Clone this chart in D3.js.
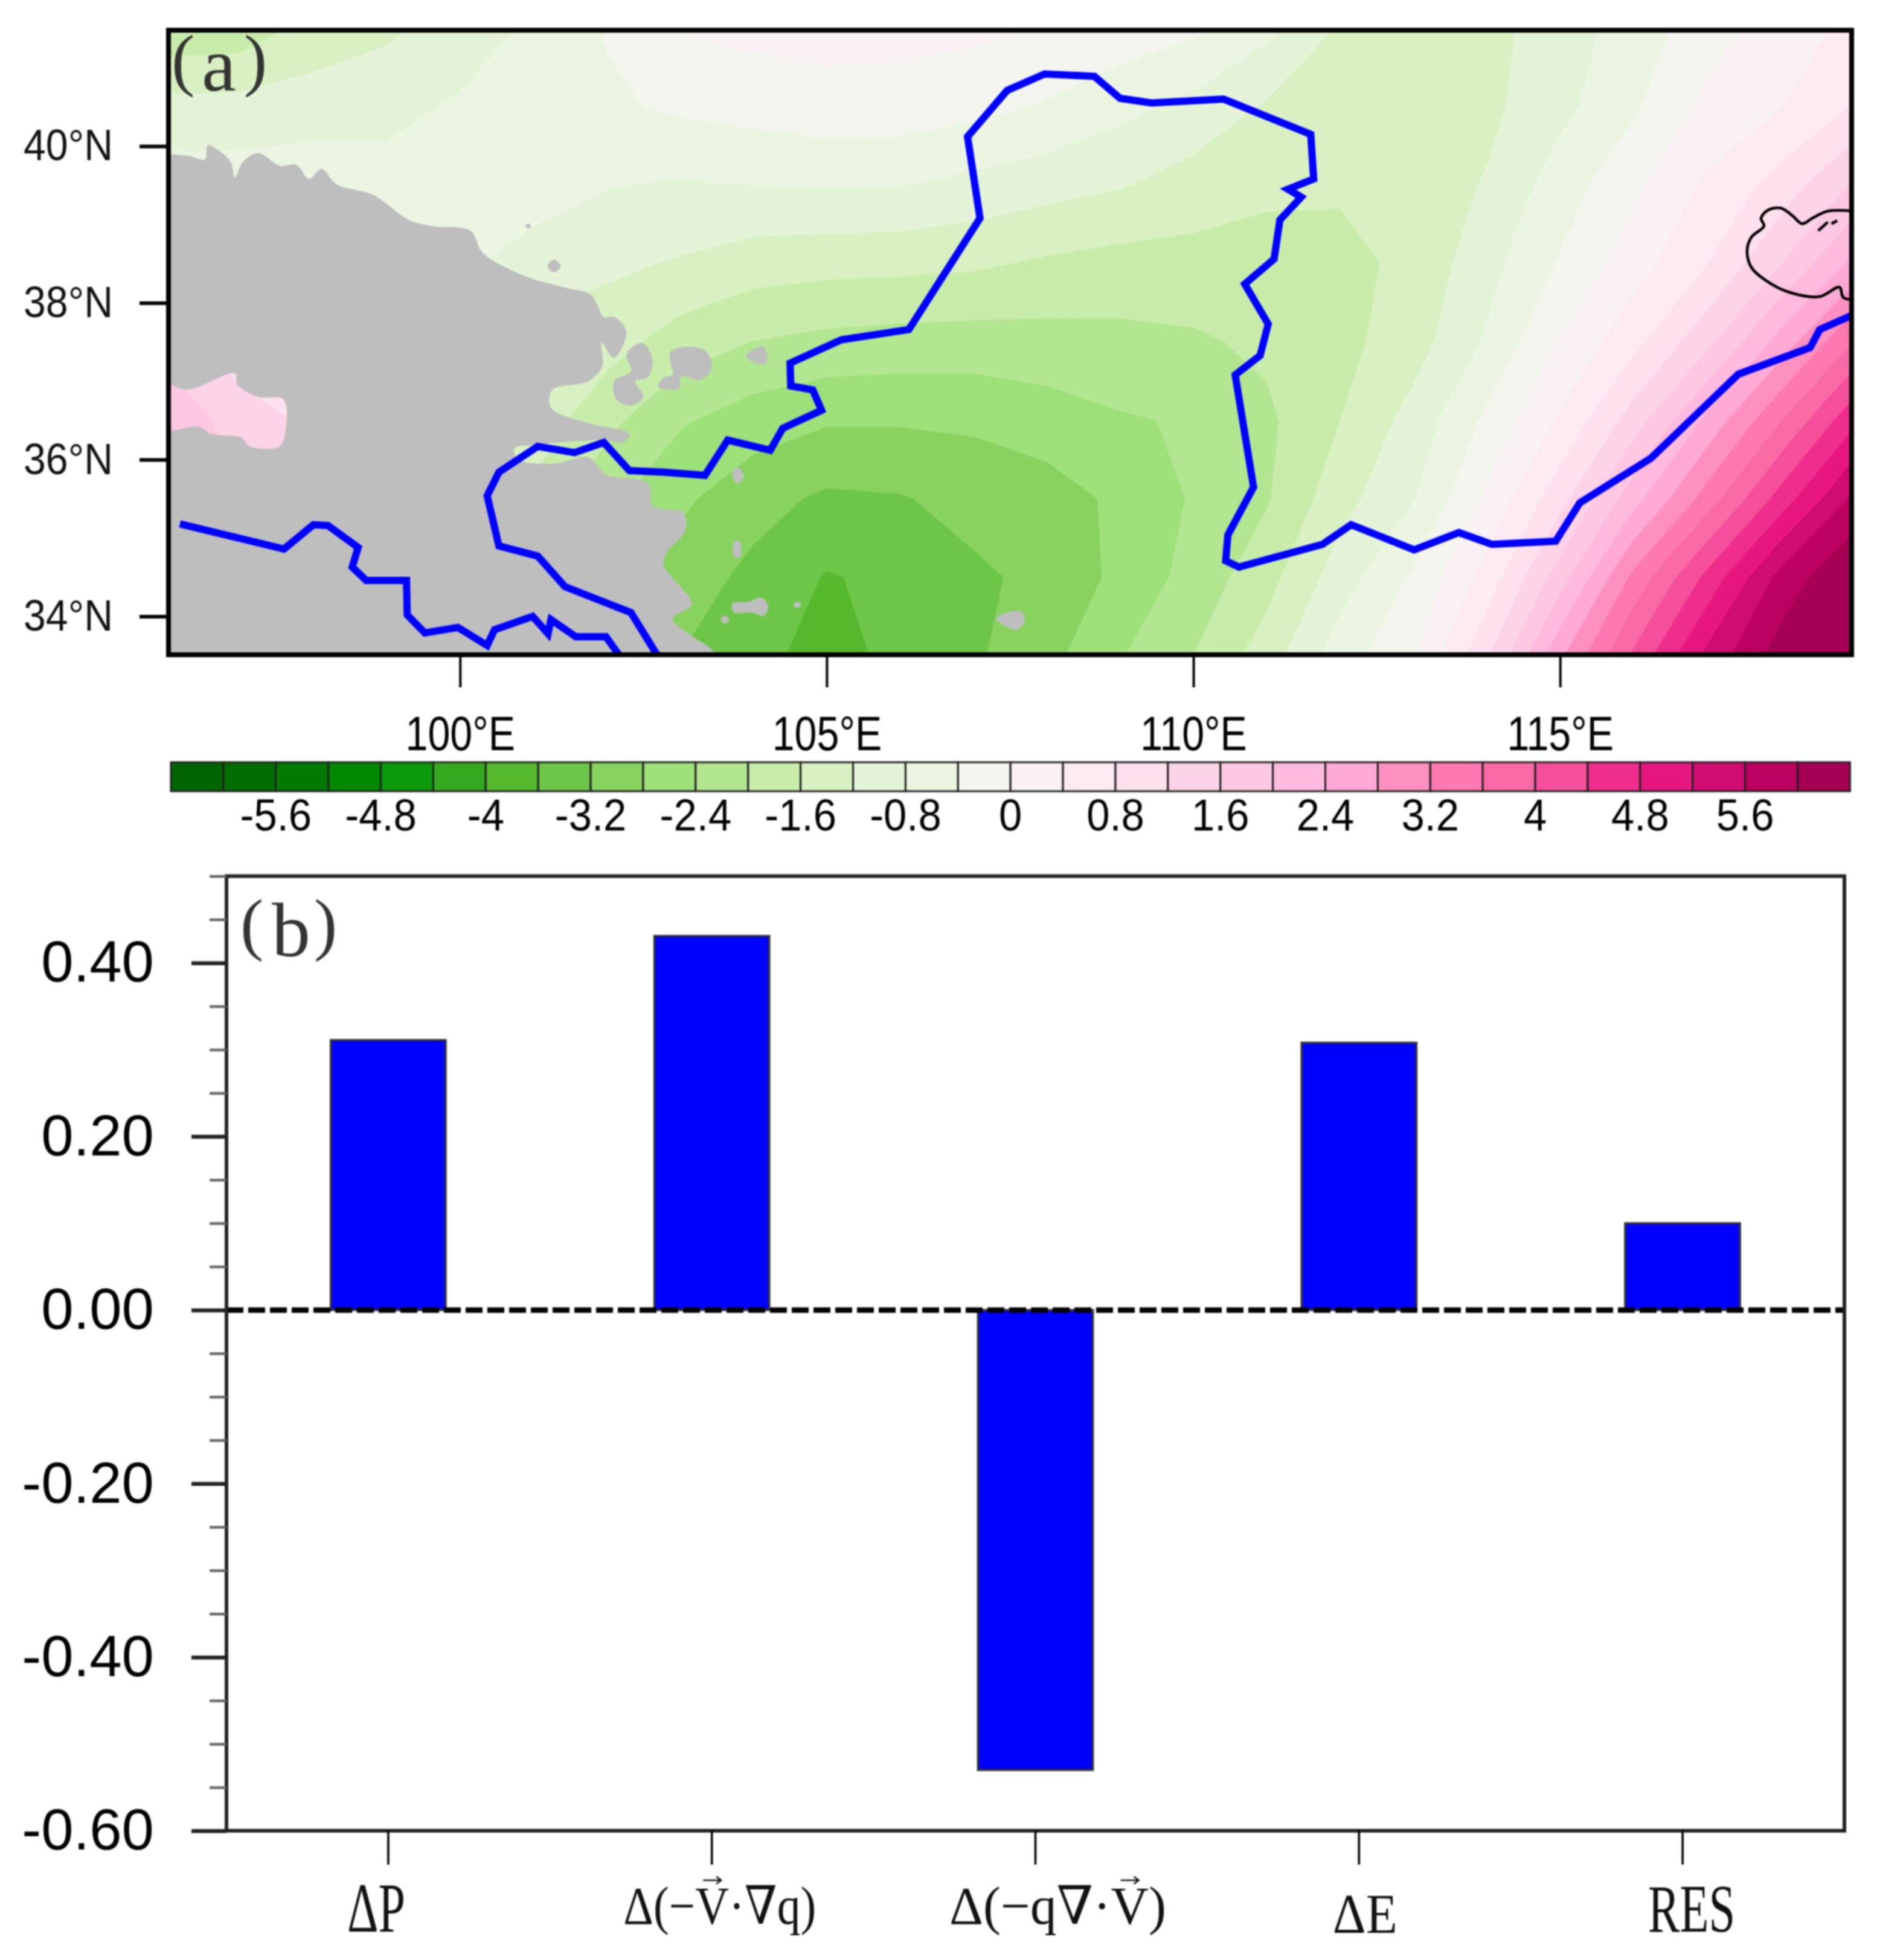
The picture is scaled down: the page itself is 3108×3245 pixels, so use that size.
<!DOCTYPE html>
<html>
<head>
<meta charset="utf-8">
<title>moisture budget</title>
<script src="https://cdn.jsdelivr.net/npm/d3@7"></script>
<style>
html, body { margin: 0; padding: 0; background: #fff; }
svg { display: block; filter: blur(0.9px); }
</style>
</head>
<body>
<div id="chart"></div>
<script>
// panel (a) - field, one row per latitude
var lons = d3.range(96, 120);
var lats = [41.5, 40.5, 39.5, 38.5, 37.5, 36.5, 35.5, 34.5, 33.5];
var row415 = [-1.9,-1.85,-1.45,-1.28,-1.0,-.74,-.37,.02,.12,.15,.14,.1,-.02,-.16,-.32,-.7,-1.25,-1.4,-1.33,-1.0,-.63,-.17,.18,.5];
var row405 = [-1.07,-1.05,-1.0,-.92,-.75,-.6,-.47,-.33,-.25,-.16,-.18,-.28,-.44,-.69,-.92,-1.25,-1.4,-1.45,-1.3,-.92,-.46,.1,.38,.83];
var row395 = [-.6,-.6,-.55,-.65,-.55,-.55,-.78,-.85,-.8,-.77,-.79,-.92,-1.05,-1.17,-1.38,-1.54,-1.55,-1.42,-1.17,-.6,-.08,.47,.96,1.65];
var row385 = [0,0,-.2,-.7,-.7,-1.03,-1.12,-1.24,-1.41,-1.47,-1.49,-1.54,-1.66,-1.75,-1.74,-1.72,-1.72,-1.5,-.94,-.36,.22,.78,1.58,2.5];
var row375 = [1.47,.87,.5,-.2,-.9,-1.3,-1.43,-1.79,-2.01,-2.11,-2.16,-2.18,-2.15,-2.11,-2.06,-1.92,-1.72,-1.38,-.75,.03,.67,1.48,2.55,3.6];
var row365 = [1.85,1.45,1.1,.2,-.5,-1.35,-1.89,-2.35,-2.6,-2.76,-2.76,-2.73,-2.6,-2.44,-2.36,-2.08,-1.6,-1.05,-.32,.45,1.39,2.5,3.57,4.7];
var row355 = [2.0,1.6,1.0,0,-.8,-1.7,-2.3,-2.72,-3.06,-3.27,-3.23,-3.07,-2.98,-2.72,-2.36,-2.04,-1.35,-.83,.07,1.05,2.24,3.37,4.56,5.68];
var row345 = [1.5,1,.4,-.4,-1.2,-2.0,-2.6,-3.0,-3.3,-3.63,-3.5,-3.27,-3.1,-2.7,-2.25,-1.75,-1.0,-.33,.55,1.8,3.3,4.5,5.72,6.42];
var row335 = [1,.6,.1,-.6,-1.4,-2.2,-2.8,-3.2,-3.4,-3.85,-3.42,-3.26,-2.93,-2.43,-2.0,-1.4,-.6,-.05,1.12,2.72,4.07,5.3,6.2,7.0];

// contour levels and box colours of the label bar
var levels = d3.range(-6, 6.01, 0.4).map(function(d) { return +d.toFixed(1); });
var levelColors = ["#006400","#006e00","#007a00","#008800","#0a9a0a","#35a91e","#55b92d","#6ec648",
                   "#88d260","#9ee07a","#b3e690","#c8edaa","#d9f1c2","#e5f4d8","#ebf5e2","#f3f5ee",
                   "#f9f1f4","#fdeaf2","#fee0ee","#fdd3e7","#fec8e3","#ffbade","#feaad4","#fe90c0",
                   "#fc78ae","#f96aa5","#f54e9a","#ef2d8c","#e8177f","#d10c70","#bb0060","#a60055"];
var barLabels = [-5.6,-4.8,-4,-3.2,-2.4,-1.6,-0.8,0,0.8,1.6,2.4,3.2,4,4.8,5.6];
var lonTicks = [100, 105, 110, 115];
var latTicks = [34, 36, 38, 40];

// missing-data mask, [lon, lat]
var maskMain = [[95.9,39.82],[96.27,39.88],[96.52,39.83],[96.56,40.01],[96.67,39.97],[96.87,39.80],[96.93,39.60],[97.04,39.80],
  [97.25,39.91],[97.54,39.75],[97.77,39.76],[97.94,39.58],[98.11,39.71],[98.32,39.51],[98.81,39.38],[99.30,39.06],[99.62,38.98],
  [100.14,38.92],[100.31,38.64],[100.89,38.34],[101.41,38.20],[101.79,38.10],[101.96,37.82],[102.10,37.82],[102.27,37.63],
  [102.10,37.30],[101.93,37.49],[101.94,37.19],[101.75,37.00],[101.26,36.89],[101.24,36.66],[101.73,36.47],[102.31,36.33],
  [102.22,36.22],[101.96,36.25],[101.06,36.19],[100.74,36.14],[100.80,36.00],[101.29,35.95],[101.75,36.03],[101.99,35.81],
  [102.56,35.70],[102.62,35.42],[102.78,35.37],[103.05,35.32],[103.07,35.09],[102.82,34.82],[102.78,34.65],[103.16,34.16],
  [102.90,33.97],[103.13,33.77],[103.48,33.52],[103.48,33.0],[95.5,33.0]];
var maskHole = [[95.9,36.995],[96.27,36.89],[96.93,37.10],[96.96,36.96],[97.25,36.80],[97.59,36.77],[97.62,36.36],[97.54,36.17],
  [97.13,36.17],[97.02,36.28],[96.61,36.33],[96.44,36.42],[95.9,36.39]];
var maskSpots = [
  [[102.48,37.49],[102.62,37.30],[102.56,37.05],[102.39,37.00],[102.50,36.80],[102.33,36.69],[102.13,36.77],[102.10,37.00],[102.33,37.13],[102.27,37.35]],
  [[102.87,37.38],[103.13,37.44],[103.36,37.38],[103.43,37.16],[103.28,37.02],[103.01,37.06],[102.99,36.91],[102.70,36.93],[102.78,37.05],[102.90,37.08],[102.87,37.24]],
  [[103.90,37.33],[104.14,37.44],[104.18,37.24],[104.03,37.23]],
  [[103.71,35.84],[103.80,35.90],[103.87,35.79],[103.78,35.69]],
  [[103.74,34.96],[103.81,34.96],[103.82,34.77],[103.74,34.75]],
  [[103.71,34.16],[103.94,34.19],[104.11,34.24],[104.20,34.13],[104.14,34.01],[103.97,34.05],[103.74,34.05]],
  [[104.55,34.15],[104.60,34.19],[104.65,34.15],[104.60,34.11]],
  [[103.55,33.96],[103.61,34.01],[103.67,33.96],[103.61,33.91]],
  [[107.31,33.97],[107.50,34.06],[107.67,34.05],[107.69,33.91],[107.58,33.83]],
  [[100.89,38.98],[100.93,39.01],[100.97,38.98],[100.93,38.95]],
  [[101.19,38.47],[101.28,38.55],[101.37,38.47],[101.28,38.39]]
];

// blue basin outline
var basinSouth = [[96.18,35.18],[97.60,34.86],[98.00,35.17],[98.20,35.16],[98.61,34.88],[98.53,34.63],[98.72,34.46],[99.27,34.46],
  [99.28,34.02],[99.52,33.79],[99.97,33.86],[100.37,33.63],[100.47,33.83],[100.99,34.00],[101.20,33.78],[101.24,33.96],[101.58,33.74],
  [101.99,33.74],[102.16,33.52]];
var basinNorth = [[102.68,33.52],[102.33,34.05],[101.43,34.38],[101.06,34.77],[100.53,34.90],[100.37,35.54],[100.53,35.84],[101.06,36.17],
  [101.56,36.09],[101.96,36.22],[102.31,35.86],[102.78,35.84],[103.34,35.80],[103.65,36.25],[104.23,36.12],[104.40,36.40],[104.93,36.63],
  [104.81,36.89],[104.51,36.94],[104.50,37.23],[105.20,37.53],[106.12,37.66],[107.09,39.08],[106.92,40.12],[107.46,40.71],[107.97,40.92],
  [108.65,40.89],[109.00,40.61],[109.43,40.55],[110.41,40.60],[111.60,40.15],[111.64,39.58],[111.29,39.45],[111.47,39.35],[111.18,39.06],
  [111.10,38.56],[110.70,38.24],[111.02,37.73],[110.91,37.33],[110.57,37.08],[110.82,35.65],[110.47,35.04],[110.44,34.71],[110.62,34.63],
  [111.76,34.92],[112.15,35.17],[113.01,34.85],[113.62,35.07],[114.07,34.92],[114.94,34.96],[115.27,35.45],[116.24,36.02],[117.43,37.09],
  [118.41,37.43],[118.54,37.66],[119.0,37.85]];

// black coast
var coastBay = [[119.0,39.17],[118.65,39.17],[118.44,39.08],[118.30,39.01],[118.17,39.11],[118.01,39.21],[117.83,39.18],[117.74,39.08],
  [117.78,38.98],[117.61,38.84],[117.55,38.67],[117.61,38.45],[117.80,38.29],[118.11,38.14],[118.54,38.08],[118.81,38.20],[118.86,38.07],[119.0,38.04]];
var coastBits = [[[118.52,38.92],[118.65,39.03]], [[118.70,39.01],[118.78,39.05]], [[118.97,37.52],[118.97,37.33]]];

// panel (b)
var budgetNames = ["ΔP", "Δ(−V·∇q)", "Δ(−q∇·V)", "ΔE", "RES"];
var budgetValues = [0.311, 0.431, -0.53, 0.308, 0.1];
var yMajor = [-0.6, -0.4, -0.2, 0, 0.2, 0.4];
var yMinor = d3.range(-0.55, 0.51, 0.05).map(function(d) { return +d.toFixed(2); })
  .filter(function(d) { return yMajor.indexOf(d) < 0; });

var sans = "'Liberation Sans', Arial, sans-serif";
var serif = "'Liberation Serif', 'DejaVu Serif', serif";

var svg = d3.select("#chart").append("svg")
  .attr("width", 3108).attr("height", 3245).attr("viewBox", "0 0 3108 3245");

// the labels in the reference are narrower than the font
function squeeze(sel, factor) {
  sel.each(function() {
    var w = this.getComputedTextLength();
    d3.select(this).attr("textLength", w * factor).attr("lengthAdjust", "spacingAndGlyphs");
  });
}

// ---- panel (a) ----
var x = d3.scaleLinear().domain([96, 119]).range([276, 3069]);
var y = d3.scaleLinear().domain([33.5, 41.5]).range([1085.5, 47.2]);
var frameA = {x0: 279, x1: 3066, y0: 50, y1: 1084};

svg.append("clipPath").attr("id", "mapclip").append("rect")
  .attr("x", frameA.x0).attr("y", frameA.y0)
  .attr("width", frameA.x1 - frameA.x0).attr("height", frameA.y1 - frameA.y0);

var map = svg.append("g").attr("clip-path", "url(#mapclip)");

var field = [].concat(row415, row405, row395, row385, row375, row365, row355, row345, row335);
var contours = d3.contours().size([lons.length, lats.length]).thresholds(levels)(field);

// d3.contours puts node i at i + 0.5
var gridPath = d3.geoPath(d3.geoTransform({
  point: function(cx, cy) {
    this.stream.point(x(lons[0] + cx - 0.5), y(lats[0] - (cy - 0.5)));
  }
}));

map.append("rect").attr("x", frameA.x0).attr("y", frameA.y0)
  .attr("width", frameA.x1 - frameA.x0).attr("height", frameA.y1 - frameA.y0)
  .attr("fill", levelColors[0]);

map.append("g").selectAll("path")
  .data(contours)
  .enter().append("path")
  .attr("d", gridPath)
  .attr("fill", function(d, i) { return levelColors[i + 1]; })
  .attr("stroke", function(d, i) { return levelColors[i + 1]; })
  .attr("stroke-width", 0.6);

var lonLat = d3.line().x(function(d) { return x(d[0]); }).y(function(d) { return y(d[1]); });
var smoothRing = d3.line().x(function(d) { return x(d[0]); }).y(function(d) { return y(d[1]); })
  .curve(d3.curveCatmullRomClosed.alpha(0.5));

map.append("path")
  .attr("d", smoothRing(maskMain) + smoothRing(maskHole))
  .attr("fill", "#bebebe").attr("fill-rule", "evenodd");
map.append("g").selectAll("path")
  .data(maskSpots)
  .enter().append("path")
  .attr("d", smoothRing)
  .attr("fill", "#bebebe");

map.append("g").selectAll("path")
  .data([coastBay].concat(coastBits))
  .enter().append("path")
  .attr("d", d3.line().x(function(d) { return x(d[0]); }).y(function(d) { return y(d[1]); }).curve(d3.curveCatmullRom))
  .attr("fill", "none").attr("stroke", "#000").attr("stroke-width", 4.6);

map.append("g").selectAll("path")
  .data([basinSouth, basinNorth])
  .enter().append("path")
  .attr("d", lonLat)
  .attr("fill", "none").attr("stroke", "#0000ff").attr("stroke-width", 12)
  .attr("stroke-linejoin", "miter");

svg.append("rect").attr("x", frameA.x0).attr("y", frameA.y0)
  .attr("width", frameA.x1 - frameA.x0).attr("height", frameA.y1 - frameA.y0)
  .attr("fill", "none").attr("stroke", "#000").attr("stroke-width", 8);

// lon axis
var lonAxis = svg.append("g").attr("transform", "translate(0," + frameA.y1 + ")")
  .call(d3.axisBottom(x).tickValues(lonTicks).tickSize(54).tickPadding(48)
    .tickFormat(function(d) { return d + "°E"; }));
lonAxis.select(".domain").remove();
lonAxis.selectAll("line").attr("stroke", "#000").attr("stroke-width", 4);
lonAxis.selectAll("text").attr("font-family", sans).attr("font-size", 79).attr("fill", "#000").call(squeeze, 0.84);

// lat axis
var latAxis = svg.append("g").attr("transform", "translate(" + frameA.x0 + ",0)")
  .call(d3.axisLeft(y).tickValues(latTicks).tickSize(48).tickPadding(44)
    .tickFormat(function(d) { return d + "°N"; }));
latAxis.select(".domain").remove();
latAxis.selectAll("line").attr("stroke", "#000").attr("stroke-width", 6);
latAxis.selectAll("text").attr("font-family", sans).attr("font-size", 72).attr("fill", "#111").call(squeeze, 0.92);

// label bar
var barX = d3.scaleLinear().domain([-6.4, 6.4]).range([283, 3063.4]);
var barTop = 1262, barBottom = 1310;
svg.append("g").selectAll("rect")
  .data(levelColors)
  .enter().append("rect")
  .attr("x", function(d, i) { return barX(-6.4 + i * 0.4); })
  .attr("y", barTop)
  .attr("width", barX(0.4) - barX(0))
  .attr("height", barBottom - barTop)
  .attr("fill", function(d) { return d; })
  .attr("stroke", "#222").attr("stroke-width", 3);

svg.append("g").selectAll("text")
  .data(barLabels)
  .enter().append("text")
  .attr("x", function(d) { return barX(d); })
  .attr("y", 1375)
  .attr("text-anchor", "middle")
  .attr("font-family", sans).attr("font-size", 74).attr("fill", "#000")
  .text(function(d) { return d; })
  .call(squeeze, 0.93);

// ---- panel (b) ----
var bx = d3.scaleBand().domain(budgetNames).range([375, 3054]).paddingInner(0.645).paddingOuter(0.3225);
var by = d3.scaleLinear().domain([-0.6, 0.5]).range([3031, 1450.5]);

svg.append("g").selectAll("rect")
  .data(budgetValues)
  .enter().append("rect")
  .attr("x", function(d, i) { return bx(budgetNames[i]); })
  .attr("y", function(d) { return by(Math.max(d, 0)); })
  .attr("width", bx.bandwidth())
  .attr("height", function(d) { return Math.abs(by(d) - by(0)); })
  .attr("fill", "#0000ff").attr("stroke", "#333").attr("stroke-width", 3.5);

svg.append("line")
  .attr("x1", bx.range()[0]).attr("x2", bx.range()[1])
  .attr("y1", by(0)).attr("y2", by(0))
  .attr("stroke", "#000").attr("stroke-width", 9).attr("stroke-dasharray", "28,8");

svg.append("rect").attr("x", 375).attr("y", 1450.5).attr("width", 3054 - 375).attr("height", 3031 - 1450.5)
  .attr("fill", "none").attr("stroke", "#222").attr("stroke-width", 6);

var minorAxis = svg.append("g").attr("transform", "translate(375,0)")
  .call(d3.axisLeft(by).tickValues(yMinor).tickSize(28).tickFormat(""));
minorAxis.select(".domain").remove();
minorAxis.selectAll("line").attr("stroke", "#666").attr("stroke-width", 4.5);

var majorAxis = svg.append("g").attr("transform", "translate(375,0)")
  .call(d3.axisLeft(by).tickValues(yMajor).tickSize(58).tickPadding(62).tickFormat(d3.format(".2f")));
majorAxis.select(".domain").remove();
majorAxis.selectAll("line").attr("stroke", "#222").attr("stroke-width", 6.5);
majorAxis.selectAll("text").attr("font-family", sans).attr("font-size", 96).attr("fill", "#000")
  .text(function(d) { return d3.format(".2f")(d).replace("−", "-"); });

var catAxis = svg.append("g").attr("transform", "translate(0,3031)")
  .call(d3.axisBottom(bx).tickSize(56).tickFormat(""));
catAxis.select(".domain").remove();
catAxis.selectAll("line").attr("stroke", "#000").attr("stroke-width", 3.6);

// category labels are squeezed in the original, small arrows go over the V
var catStyle = [
  {dx: -20, base: 3198, size: 116, len: 96},
  {dx: 13, base: 3185, size: 88, len: 319},
  {dx: 37, base: 3185, size: 88, len: 359},
  {dx: 10, base: 3200, size: 94, len: 107},
  {dx: 15, base: 3198, size: 113, len: 144}
];
var catGroup = svg.append("g");
catGroup.selectAll("text")
  .data(budgetNames)
  .enter().append("text")
  .attr("font-family", serif).attr("fill", "#111")
  .attr("font-size", function(d, i) { return catStyle[i].size; })
  .text(function(d) { return d; })
  .each(function(d, i) {
    var st = catStyle[i];
    var w = this.getComputedTextLength(), sx = st.len / w;
    var cx = bx(d) + bx.bandwidth() / 2 + st.dx;
    d3.select(this)
      .attr("transform", "translate(" + cx + "," + st.base + ") scale(" + sx + ",1)")
      .attr("x", -w / 2).attr("y", 0);
    var at = d.indexOf("V");
    if (at < 0) return;
    var vx = -w / 2 + this.getSubStringLength(0, at) + this.getSubStringLength(at, 1) / 2;
    catGroup.append("path")
      .attr("d", "M-15,0H15M7,-6L15,0L7,6")
      .attr("transform", "translate(" + (cx + vx * sx) + "," + (st.base - 72) + ")")
      .attr("fill", "none").attr("stroke", "#111").attr("stroke-width", 2.6);
  });

// panel tags
function panelTag(letter, leftX, midX, rightX, parenBase, letterBase) {
  var g = svg.append("g").attr("font-family", serif).attr("fill", "#333");
  g.append("text").attr("x", leftX).attr("y", parenBase).attr("font-size", 115).text("(");
  g.append("text").attr("x", midX).attr("y", letterBase).attr("font-size", 128).text(letter);
  g.append("text").attr("x", rightX).attr("y", parenBase).attr("font-size", 115).text(")");
}
panelTag("a", 284, 334, 404, 137, 150);
panelTag("b", 398, 450, 520, 1568, 1583);
</script>
</body>
</html>
